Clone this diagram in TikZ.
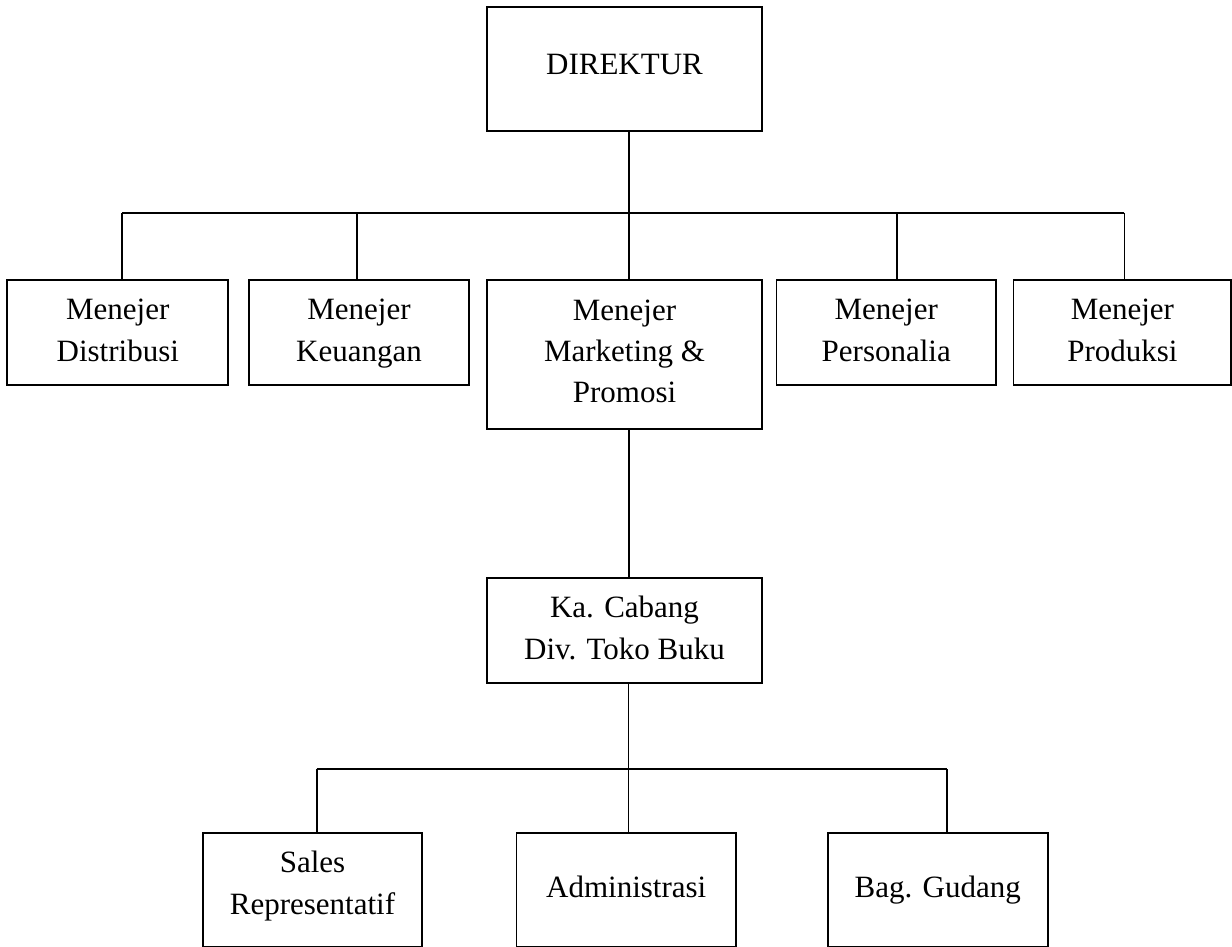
\documentclass[tikz,border=0pt]{standalone}
\usepackage{fontspec}
\setmainfont{Liberation Serif}
\begin{document}
\begin{tikzpicture}[x=1pt,y=-1pt,
  box/.style={draw=black,line width=1.7pt,rectangle,inner sep=0pt,fill=none},
  lbl/.style={align=center,inner sep=0pt,font=\fontsize{31}{42}\selectfont},
  conn/.style={draw=black,line width=1.7pt}]
\useasboundingbox (0,0) rectangle (1232,947);
% boxes
\node[box,minimum width=274.4pt,minimum height=123.4pt] (dir)   at (624.5,69) {};
\node[box,minimum width=221pt,minimum height=104.5pt]   (dist)  at (117.8,332.5) {};
\node[box,minimum width=220pt,minimum height=104.5pt]   (keu)   at (359,332.5) {};
\node[box,minimum width=274.4pt,minimum height=149pt]   (mkt)   at (624.5,354.8) {};
\node[box,minimum width=219.5pt,minimum height=104.5pt] (pers)  at (886.25,332.5) {};
\node[box,minimum width=217.8pt,minimum height=104.5pt] (prod)  at (1122.4,332.5) {};
\node[box,minimum width=274.4pt,minimum height=105pt]   (cab)   at (624.5,630.2) {};
\node[box,minimum width=219.6pt,minimum height=113.8pt] (sales) at (312.5,889.6) {};
\node[box,minimum width=219.5pt,minimum height=113.8pt] (adm)   at (626.25,889.6) {};
\node[box,minimum width=220pt,minimum height=113.8pt]   (gud)   at (937.7,889.6) {};
% texts
\node[lbl,yshift=3.3pt] (dirT)   at (dir.center)   {\strut DIREKTUR};
\node[lbl]              (distT)  at (dist.center)  {\strut Menejer\\\strut Distribusi};
\node[lbl]              (keuT)   at (keu.center)   {\strut Menejer\\\strut Keuangan};
\node[lbl,yshift=1.5pt,font=\fontsize{31}{41}\selectfont] (mktT) at (mkt.center) {\strut Menejer\\\strut Marketing \&\\\strut Promosi};
\node[lbl]              (persT)  at (pers.center)  {\strut Menejer\\\strut Personalia};
\node[lbl]              (prodT)  at (prod.center)  {\strut Menejer\\\strut Produksi};
\node[lbl]              (cabT)   at (cab.center)   {\strut Ka. Cabang\\\strut Div. Toko Buku};
\node[lbl,yshift=5pt]   (salesT) at (sales.center) {\strut Sales\\\strut Representatif};
\node[lbl,yshift=1pt]   (admT)   at (adm.center)   {\strut Administrasi};
\node[lbl,yshift=1pt]   (gudT)   at (gud.center)   {\strut Bag. Gudang};
% bus coordinates
\coordinate (t1) at (122.3,212.7);
\coordinate (t2) at (356.7,212.7);
\coordinate (t3) at (628.7,212.7);
\coordinate (t4) at (897,212.7);
\coordinate (t5) at (1124.4,212.7);
\coordinate (b1) at (316.7,769.3);
\coordinate (b2) at (628.6,769.3);
\coordinate (b3) at (947,769.3);
% connectors
\draw[conn] (t3 |- dir.south) -- (t3);
\draw[conn] (t1) -- (t5);
\draw[conn] (t1) -- (t1 |- dist.north);
\draw[conn] (t2) -- (t2 |- keu.north);
\draw[conn] (t3) -- (t3 |- mkt.north);
\draw[conn] (t4) -- (t4 |- pers.north);
\draw[conn] (t5) -- (t5 |- prod.north);
\draw[conn] (t3 |- mkt.south) -- (t3 |- cab.north);
\draw[conn] (b2 |- cab.south) -- (b2);
\draw[conn] (b1) -- (b3);
\draw[conn] (b1) -- (b1 |- sales.north);
\draw[conn] (b2) -- (b2 |- adm.north);
\draw[conn] (b3) -- (b3 |- gud.north);
\end{tikzpicture}
\end{document}
